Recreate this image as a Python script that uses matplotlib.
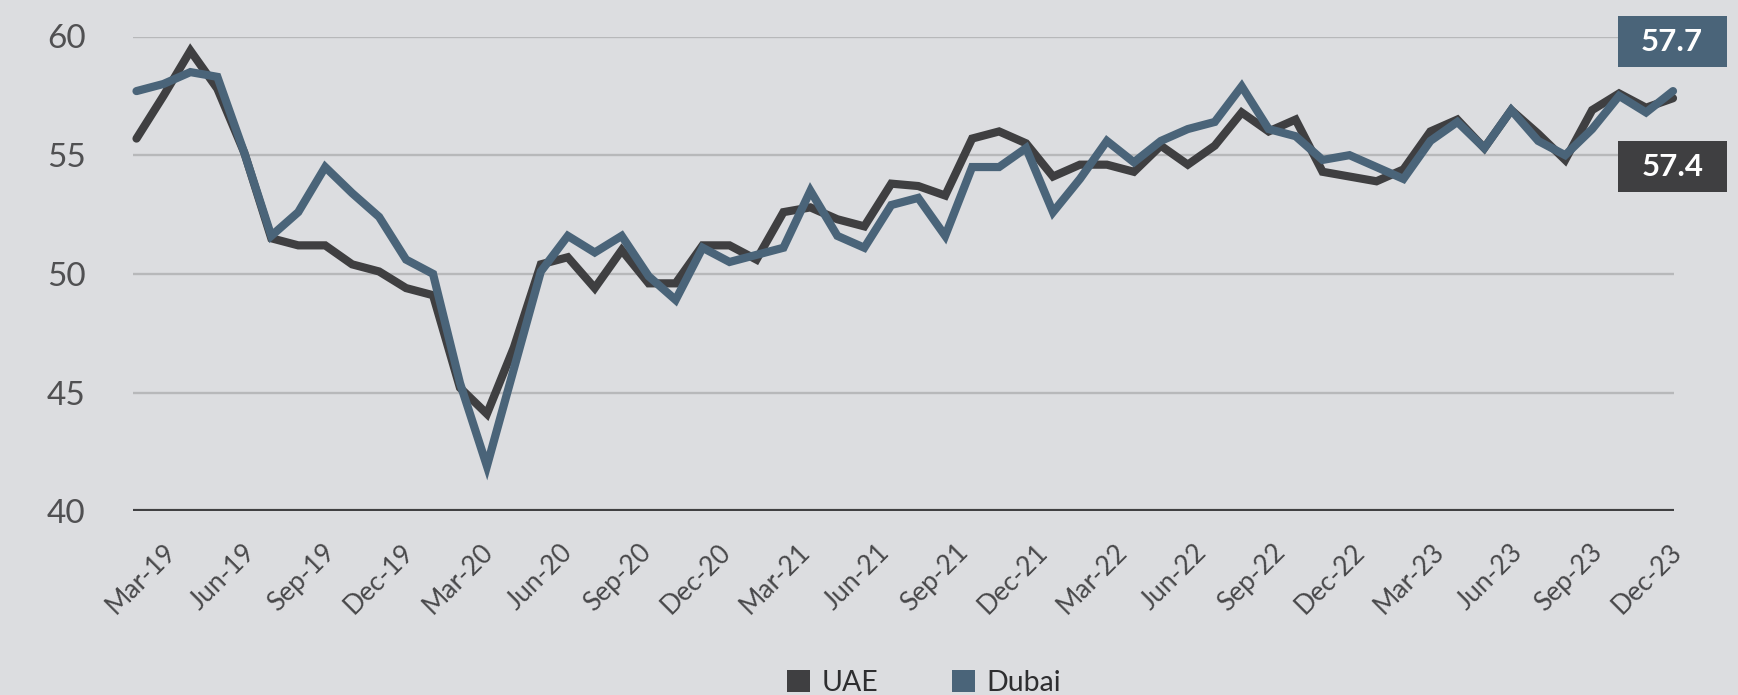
import matplotlib
matplotlib.use("Agg")
import matplotlib.pyplot as plt
import matplotlib.transforms as mtransforms
from matplotlib.patches import Patch, Rectangle

# ---------------- data ----------------
months = ["Mar-19", "Apr-19", "May-19", "Jun-19", "Jul-19", "Aug-19", "Sep-19", "Oct-19", "Nov-19", "Dec-19",
          "Jan-20", "Feb-20", "Mar-20", "Apr-20", "May-20", "Jun-20", "Jul-20", "Aug-20", "Sep-20", "Oct-20",
          "Nov-20", "Dec-20", "Jan-21", "Feb-21", "Mar-21", "Apr-21", "May-21", "Jun-21", "Jul-21", "Aug-21",
          "Sep-21", "Oct-21", "Nov-21", "Dec-21", "Jan-22", "Feb-22", "Mar-22", "Apr-22", "May-22", "Jun-22",
          "Jul-22", "Aug-22", "Sep-22", "Oct-22", "Nov-22", "Dec-22", "Jan-23", "Feb-23", "Mar-23", "Apr-23",
          "May-23", "Jun-23", "Jul-23", "Aug-23", "Sep-23", "Oct-23", "Nov-23", "Dec-23"]

uae = [55.7, 57.5, 59.4, 57.8, 55.1, 51.5, 51.2, 51.2, 50.4, 50.1,
       49.4, 49.1, 45.2, 44.1, 46.9, 50.4, 50.7, 49.4, 51.0, 49.6,
       49.6, 51.2, 51.2, 50.6, 52.6, 52.8, 52.3, 52.0, 53.8, 53.7,
       53.3, 55.7, 56.0, 55.5, 54.1, 54.6, 54.6, 54.3, 55.4, 54.6,
       55.4, 56.8, 56.0, 56.5, 54.3, 54.1, 53.9, 54.4, 56.0, 56.5,
       55.3, 56.9, 55.9, 54.8, 56.9, 57.6, 57.0, 57.4]

dubai = [57.7, 58.0, 58.5, 58.3, 55.1, 51.6, 52.6, 54.5, 53.4, 52.4,
         50.6, 50.0, 45.4, 41.9, 46.0, 50.1, 51.6, 50.9, 51.6, 49.9,
         48.9, 51.1, 50.5, 50.8, 51.1, 53.5, 51.6, 51.1, 52.9, 53.2,
         51.6, 54.5, 54.5, 55.3, 52.6, 54.0, 55.6, 54.7, 55.6, 56.1,
         56.4, 57.9, 56.1, 55.8, 54.8, 55.0, 54.5, 54.0, 55.6, 56.4,
         55.3, 56.9, 55.6, 55.0, 56.1, 57.5, 56.8, 57.7]

series_names = ["UAE", "Dubai"]
yticks = [40, 45, 50, 55, 60]

# ---------------- style ----------------
BG = "#DCDDE0"
C_UAE = "#3F3F41"
C_DUBAI = "#4A6479"
GRID = "#B7B8BA"
TXT = "#505052"
FONT = "Lato"

W, H = 1738, 695
fig = plt.figure(figsize=(W / 100, H / 100), dpi=100, facecolor=BG)
ax_l, ax_r, ax_t, ax_b = 133, 1674, 36.5, 511.2
x_first, x_last = 136.5, 1673.0
ax = fig.add_axes([ax_l / W, 1 - ax_b / H, (ax_r - ax_l) / W, (ax_b - ax_t) / H])
ax.set_facecolor(BG)

x = list(range(len(months)))
ax.plot(x, uae, color=C_UAE, lw=5.9, solid_joinstyle="miter", solid_capstyle="round", zorder=3, clip_on=False)
ax.plot(x, dubai, color=C_DUBAI, lw=5.9, solid_joinstyle="miter", solid_capstyle="round", zorder=4, clip_on=False)

px = (x_last - x_first) / (len(months) - 1)
ax.set_xlim(-(x_first - ax_l) / px, len(months) - 1 + (ax_r - x_last) / px)
ax.set_ylim(40, 60)

for s in ax.spines.values():
    s.set_visible(False)
for yv in yticks[1:]:
    ax.axhline(yv, color=GRID, lw=1.7, zorder=1)
ax.axhline(40, color="#404042", lw=3.0, zorder=5)

ax.set_yticks(yticks)
ax.set_yticklabels([str(v) for v in yticks], fontsize=24, color=TXT, fontfamily=FONT)
ax.tick_params(axis="y", length=0, pad=34)
ax.set_xticks([])

# x labels (every 3rd month), rotated
label_idx = list(range(0, len(months), 3))
n = len(label_idx)
base = mtransforms.blended_transform_factory(ax.transData, ax.transAxes)
for k, i in enumerate(label_idx):
    dx = (4.5 + 31.5 * (n - 1 - k) / (n - 1)) / 100.0
    tr = base + mtransforms.ScaledTranslation(dx, -37 / 100.0, fig.dpi_scale_trans)
    ax.text(i, 0, months[i], transform=tr, rotation=45, rotation_mode="anchor",
            ha="right", va="center", fontsize=19, color="#48484A", fontfamily=FONT, clip_on=False)

# end value boxes
aw = ax_r - ax_l
ah = ax_b - ax_t
bx0 = (1617.8 - ax_l) / aw
bw = (1726.6 - 1617.8) / aw
for val, col, ytop in [(dubai[-1], C_DUBAI, 15.9), (uae[-1], C_UAE, 141.3)]:
    ybot = ytop + 50.6
    r = Rectangle((bx0, (ax_b - ybot) / ah), bw, 50.6 / ah, transform=ax.transAxes,
                  facecolor=col, edgecolor="none", clip_on=False, zorder=6)
    ax.add_patch(r)
    ax.text(bx0 + bw / 2, (ax_b - (ytop + 25.8)) / ah, f"{val:.1f}", transform=ax.transAxes,
            ha="center", va="center", fontsize=22.5, fontweight="bold", color="white",
            fontfamily=FONT, zorder=7, clip_on=False)

# legend
handles = [Patch(facecolor=C_UAE, edgecolor="none"), Patch(facecolor=C_DUBAI, edgecolor="none")]
leg = fig.legend(handles, series_names, loc="center", bbox_to_anchor=(924 / W, 1 - 683 / H),
                 ncol=2, frameon=False, handlelength=0.82, handleheight=0.82, handletextpad=0.4,
                 columnspacing=2.6, prop={"family": FONT, "size": 20.5})
for t in leg.get_texts():
    t.set_color("#2E2E30")

fig.savefig("out.png", dpi=100, facecolor=BG)
